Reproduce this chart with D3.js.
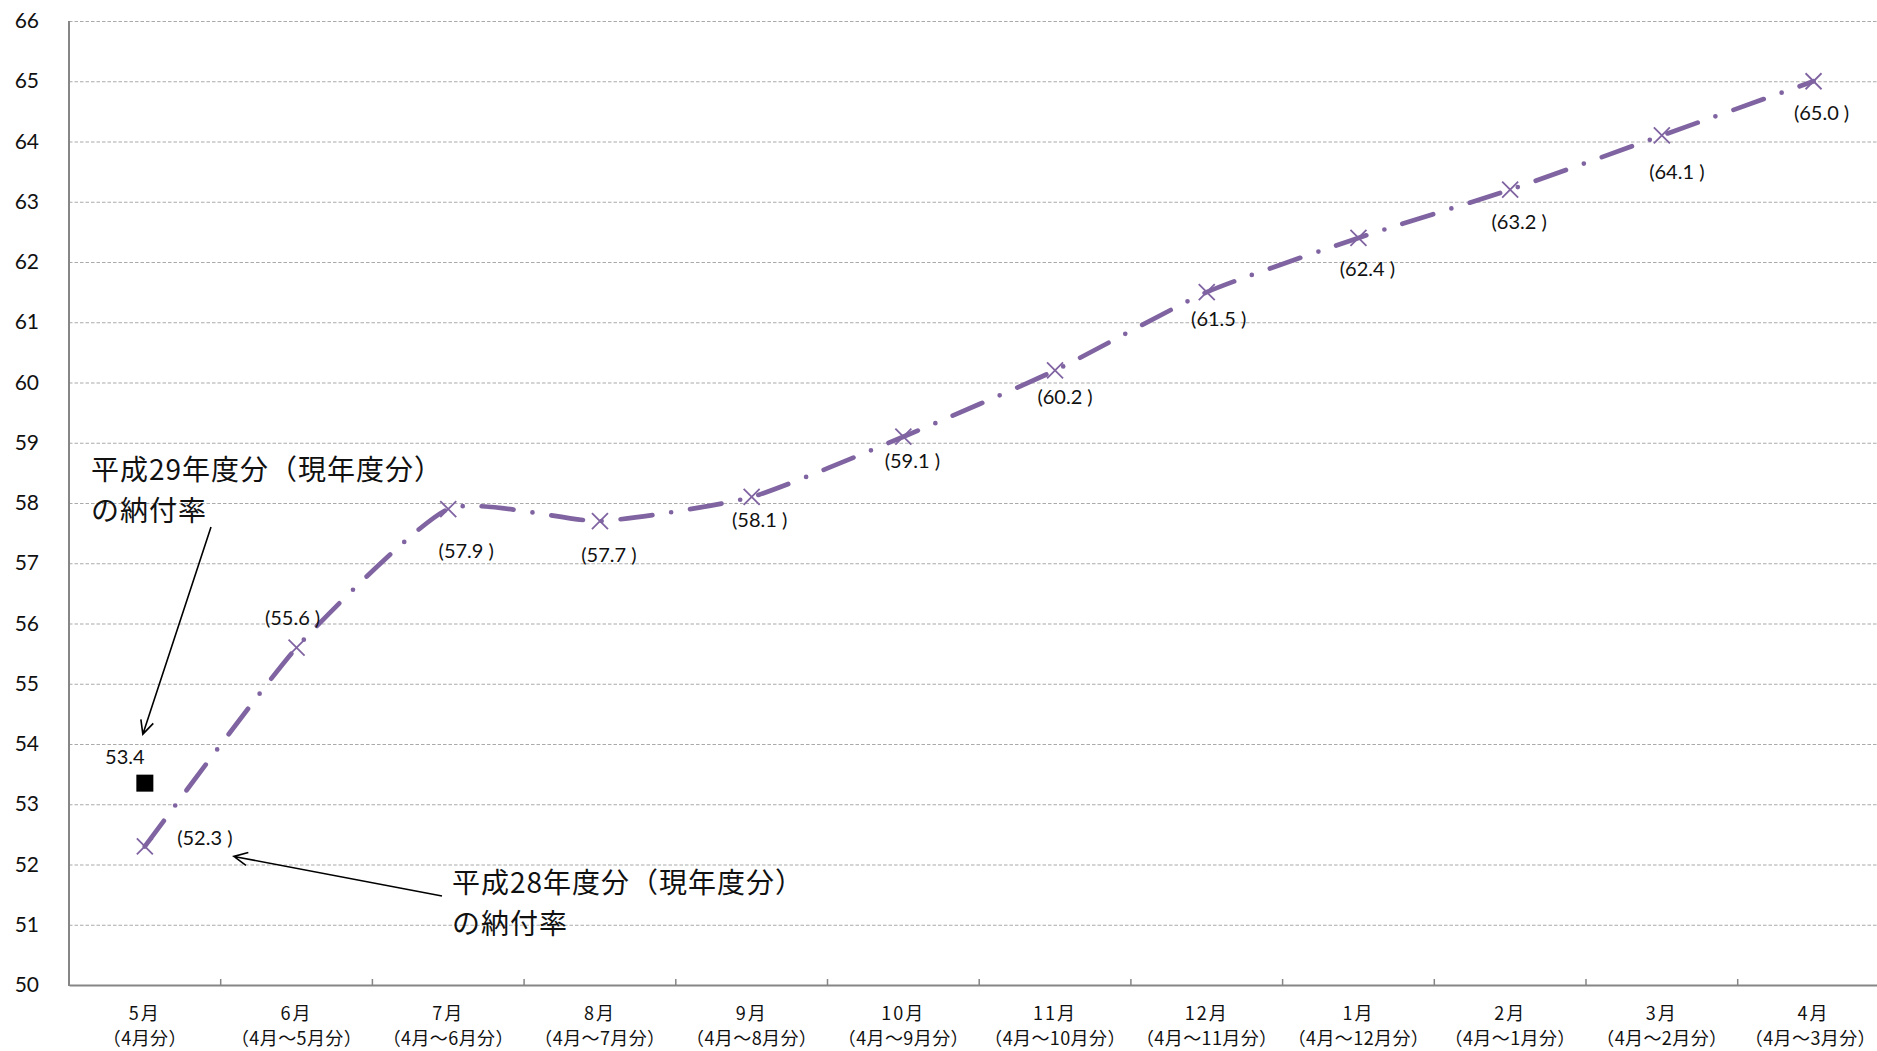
<!DOCTYPE html>
<html>
<head>
<meta charset="utf-8">
<script src="https://cdn.jsdelivr.net/npm/d3@7"></script>
<style>
  body { margin: 0; background: #fff; }
  svg { display: block; }
</style>
</head>
<body>
<div id="chart"></div>
<script>
// months (top line) and cumulative period (second line)
var months = ["5月", "6月", "7月", "8月", "9月", "10月", "11月", "12月", "1月", "2月", "3月", "4月"];
var periods = ["（4月分）", "（4月～5月分）", "（4月～6月分）", "（4月～7月分）", "（4月～8月分）", "（4月～9月分）",
               "（4月～10月分）", "（4月～11月分）", "（4月～12月分）", "（4月～1月分）", "（4月～2月分）", "（4月～3月分）"];
// 平成28年度分 納付率 (%)
var rateH28 = [52.3, 55.6, 57.9, 57.7, 58.1, 59.1, 60.2, 61.5, 62.4, 63.2, 64.1, 65.0];
// 平成29年度分 納付率 (only 5月 so far)
var rateH29 = [53.4];
var yTicks = [50, 51, 52, 53, 54, 55, 56, 57, 58, 59, 60, 61, 62, 63, 64, 65, 66];

// label offsets from each point (layout only)
var labelOff = [[60, -8], [-4, -30], [18, 42], [9, 34], [8, 23], [9, 24], [10, 27], [12, 27], [9, 31], [9, 32], [15, 37], [8, 32]];

var W = 1877, H = 1051;
var plotLeft = 69, plotTop = 21, plotBottom = 985;
var band = 151.7;
var purple = "#8064A2";

var svg = d3.select("#chart").append("svg")
    .attr("width", W)
    .attr("height", H);

svg.append("rect").attr("width", W).attr("height", H).attr("fill", "#fff");

var x = d3.scaleBand()
    .domain(months)
    .range([plotLeft, plotLeft + band * months.length]);

var y = d3.scaleLinear()
    .domain([50, 66])
    .range([plotBottom, plotTop]);

var cx = function(i) { return x(months[i]) + x.bandwidth() / 2; };

// gridlines
svg.append("g")
    .selectAll("line")
    .data(yTicks.filter(function(d) { return d > 50; }))
    .enter().append("line")
    .attr("x1", plotLeft)
    .attr("x2", plotLeft + band * months.length)
    .attr("y1", function(d) { return y(d) + 0.5; })
    .attr("y2", function(d) { return y(d) + 0.5; })
    .style("stroke", "#aaaaaa")
    .style("stroke-width", 1.2)
    .style("stroke-dasharray", "3.5,2");

// y tick labels
svg.append("g")
    .selectAll("text")
    .data(yTicks)
    .enter().append("text")
    .attr("x", 39)
    .attr("y", function(d) { return y(d) + 7; })
    .attr("text-anchor", "end")
    .style("font-family", "Lato, 'Open Sans', sans-serif")
    .style("font-size", "21px")
    .style("fill", "#111")
    .text(function(d) { return d; });

// axes
var xAxis = d3.axisBottom(x).tickSize(0).tickFormat("");
var gx = svg.append("g")
    .attr("transform", "translate(0," + plotBottom + ")")
    .call(xAxis);
gx.select(".domain").attr("stroke", "#868686").attr("stroke-width", 2);

// tick marks on band boundaries (pointing up)
svg.append("g")
    .selectAll("line")
    .data(months.slice(1))
    .enter().append("line")
    .attr("x1", function(d) { return x(d); })
    .attr("x2", function(d) { return x(d); })
    .attr("y1", plotBottom)
    .attr("y2", plotBottom - 6)
    .style("stroke", "#868686")
    .style("stroke-width", 1.5);

svg.append("line")
    .attr("x1", plotLeft).attr("x2", plotLeft)
    .attr("y1", plotTop).attr("y2", plotBottom + 1)
    .style("stroke", "#868686")
    .style("stroke-width", 2);

// x labels
var xl = svg.append("g")
    .selectAll("g")
    .data(months)
    .enter().append("g")
    .style("font-family", "'Noto Sans CJK JP', sans-serif")
    .style("font-size", "18px")
    .style("fill", "#111")
    .attr("text-anchor", "middle");

xl.append("text")
    .attr("x", function(d, i) { return cx(i); })
    .attr("y", 1020)
    .style("letter-spacing", "2px")
    .text(function(d) { return d; });

xl.append("text")
    .attr("x", function(d, i) { return cx(i); })
    .attr("y", 1045)
    .style("letter-spacing", "0.4px")
    .text(function(d, i) { return periods[i]; })
    .each(function() {
        // keep the last label inside the page
        var b = this.getBBox();
        var over = b.x + b.width - (W - 1);
        if (over > 0) d3.select(this).attr("x", +d3.select(this).attr("x") - over);
    });

// H28 line (smoothed, dash-dot)
var line = d3.line()
    .x(function(d, i) { return cx(i); })
    .y(function(d) { return y(d); })
    .curve(d3.curveCardinal.tension(0.45));

svg.append("path")
    .datum(rateH28)
    .attr("d", line)
    .style("fill", "none")
    .style("stroke", purple)
    .style("stroke-width", 4.7)
    .style("stroke-linecap", "round")
    .style("stroke-dasharray", "32,19,0,19");

// x markers
svg.append("g")
    .selectAll("path")
    .data(rateH28)
    .enter().append("path")
    .attr("d", function(d, i) {
        var px = cx(i), py = y(d), s = 8;
        return "M" + (px - s) + "," + (py - s) + "L" + (px + s) + "," + (py + s) +
               "M" + (px - s) + "," + (py + s) + "L" + (px + s) + "," + (py - s);
    })
    .style("stroke", purple)
    .style("stroke-width", 1.8)
    .style("fill", "none");

// data labels
svg.append("g")
    .selectAll("text")
    .data(rateH28)
    .enter().append("text")
    .attr("x", function(d, i) { return cx(i) + labelOff[i][0]; })
    .attr("y", function(d, i) { return y(d) + labelOff[i][1] + 7; })
    .attr("text-anchor", "middle")
    .style("font-family", "Lato, 'Open Sans', sans-serif")
    .style("font-size", "20px")
    .style("fill", "#111")
    .text(function(d) { return "(" + d.toFixed(1) + " )"; });

// H29 square
svg.append("g")
    .selectAll("rect")
    .data(rateH29)
    .enter().append("rect")
    .attr("x", function(d, i) { return cx(i) - 8.5; })
    .attr("y", function(d) { return y(d) - 8.5 + 3; })
    .attr("width", 17)
    .attr("height", 17)
    .style("fill", "#000");

svg.append("g")
    .selectAll("text")
    .data(rateH29)
    .enter().append("text")
    .attr("x", function(d, i) { return cx(i) - 20; })
    .attr("y", function(d) { return y(d) - 23 + 7; })
    .attr("text-anchor", "middle")
    .style("font-family", "Lato, 'Open Sans', sans-serif")
    .style("font-size", "20px")
    .style("fill", "#111")
    .text(function(d) { return d.toFixed(1); });

// annotations
function arrow(x1, y1, x2, y2) {
    var a = Math.atan2(y2 - y1, x2 - x1), L = 15, sp = 0.45;
    svg.append("path")
        .attr("d", "M" + x1 + "," + y1 + "L" + x2 + "," + y2 +
              "M" + (x2 - L * Math.cos(a - sp)) + "," + (y2 - L * Math.sin(a - sp)) +
              "L" + x2 + "," + y2 +
              "L" + (x2 - L * Math.cos(a + sp)) + "," + (y2 - L * Math.sin(a + sp)))
        .style("fill", "none")
        .style("stroke", "#000")
        .style("stroke-width", 1.6);
}

function note(tx, ty, lines) {
    var t = svg.append("text")
        .style("font-family", "'Noto Sans CJK JP', sans-serif")
        .style("font-size", "28px")
        .style("letter-spacing", "1px")
        .style("fill", "#111");
    lines.forEach(function(s, k) {
        t.append("tspan").attr("x", tx).attr("y", ty + k * 41).text(s);
    });
}

note(91, 480, ["平成29年度分（現年度分）", "の納付率"]);
arrow(211, 527, cx(0) - 2, y(rateH29[0]) - 46);

note(452, 893, ["平成28年度分（現年度分）", "の納付率"]);
arrow(442, 896, cx(0) + 89, y(rateH28[0]) + 10);
</script>
</body>
</html>
